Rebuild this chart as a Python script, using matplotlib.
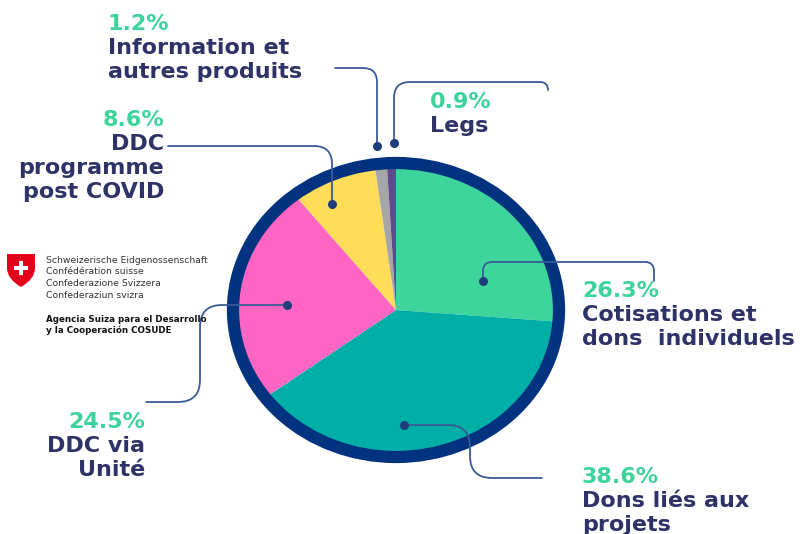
import numpy as np
import matplotlib
matplotlib.use('Agg')
import matplotlib.pyplot as plt
from matplotlib.path import Path
from matplotlib.patches import PathPatch, Circle, Rectangle

# parts des ressources (sens horaire depuis le haut)
categories = ['Cotisations et\ndons  individuels', 'Dons liés aux\nprojets', 'DDC via\nUnité',
              'DDC\nprogramme\npost COVID', 'Information et\nautres produits', 'Legs']
shares = [26.3, 38.6, 24.5, 8.6, 1.2, 0.9]
slice_colors = ['#3DD59C', '#00AEA8', '#FF66C4', '#FFDD59', '#A6A6A6', '#5E4A8C']

logo_lines = ['Schweizerische Eidgenossenschaft', 'Confédération suisse',
              'Confederazione Svizzera', 'Confederaziun svizra']
logo_agency = ['Agencia Suiza para el Desarrollo', 'y la Cooperación COSUDE']

NAVY = '#00337F'
TXT = '#2E3267'
PCT = '#3DD39B'
LINE = '#3A5A97'

W, H = 807, 534
fig = plt.figure(figsize=(W / 100, H / 100), dpi=100)

# camembert (ellipse : axes non carrés)
cx, cy, rx, ry = 396, 310, 163, 147
ax = fig.add_axes([(cx - rx) / W, (H - cy - ry) / H, 2 * rx / W, 2 * ry / H])
ax.pie(shares, colors=slice_colors, startangle=90, counterclock=False, radius=1,
       wedgeprops=dict(linewidth=0))
ax.add_patch(Circle((0, 0), 1, fill=False, ec=NAVY, lw=8.8, clip_on=False))
ax.set_aspect('auto')
ax.set_xlim(-1, 1)
ax.set_ylim(-1, 1)
ax.axis('off')

# calque en pixels pour les textes et les traits de rappel
ov = fig.add_axes([0, 0, 1, 1])
ov.set_xlim(0, W)
ov.set_ylim(H, 0)
ov.axis('off')
ov.patch.set_alpha(0)


def rounded(pts, r):
    pts = [np.array(p, float) for p in pts]
    verts, codes = [pts[0]], [Path.MOVETO]
    n = len(pts)
    for i in range(1, n - 1):
        p0, p1, p2 = pts[i - 1], pts[i], pts[i + 1]
        l1 = np.linalg.norm(p1 - p0)
        l2 = np.linalg.norm(p2 - p1)
        rr = min(r, l1 if i == 1 else l1 / 2, l2 if i == n - 2 else l2 / 2)
        a = p1 - (p1 - p0) / l1 * rr
        b = p1 + (p2 - p1) / l2 * rr
        verts += [a, p1, b]
        codes += [Path.LINETO, Path.CURVE3, Path.CURVE3]
    verts.append(pts[-1])
    codes.append(Path.LINETO)
    return Path(verts, codes)


leaders = [
    ([(483, 281), (483, 262), (654, 262), (654, 281)], 9, (483, 281)),
    ([(404, 425), (470, 425), (470, 478), (542, 478)], 22, (404, 425)),
    ([(287, 305), (200, 305), (200, 402), (146, 402)], 22, (287, 305)),
    ([(168, 146), (332, 146), (332, 204)], 18, (332, 204)),
    ([(335, 68), (377, 68), (377, 146)], 14, (377, 146)),
    ([(394, 143), (394, 82), (548, 82), (548, 90)], 16, (394, 143)),
]
for pts, r, dot in leaders:
    ov.add_patch(PathPatch(rounded(pts, r), fill=False, ec=LINE, lw=1.3, capstyle='round'))
    ov.plot(*dot, 'o', ms=6.5, color='#1F3D7A', mec='none')

# positions des étiquettes (x, y de la première ligne, alignement)
label_pos = [(582, 297, 'left'), (582, 483, 'left'), (145, 428, 'right'),
             (164, 126, 'right'), (108, 30, 'left'), (430, 108, 'left')]
step = 24
fs = 16
for cat, v, (x, y, ha) in zip(categories, shares, label_pos):
    ov.text(x, y, f'{v}%', color=PCT, fontsize=fs, fontweight='bold', ha=ha, va='baseline')
    for k, line in enumerate(cat.split('\n')):
        ov.text(x, y + step * (k + 1), line, color=TXT, fontsize=fs, fontweight='bold',
                ha=ha, va='baseline')

# logo Confédération
shield = Path([(7, 254), (35, 254), (35, 268), (35, 279), (21, 287), (7, 279), (7, 268), (7, 254)],
              [Path.MOVETO, Path.LINETO, Path.LINETO, Path.CURVE3, Path.CURVE3,
               Path.CURVE3, Path.CURVE3, Path.CLOSEPOLY])
ov.add_patch(PathPatch(shield, fc='#E3001B', ec='none'))
ov.add_patch(Rectangle((18.8, 261), 4.4, 14, fc='white', ec='none'))
ov.add_patch(Rectangle((14, 265.8), 14, 4.4, fc='white', ec='none'))
for k, line in enumerate(logo_lines):
    ov.text(46, 263 + 11.5 * k, line, color='#333333', fontsize=6.7, va='baseline')
for k, line in enumerate(logo_agency):
    ov.text(46, 322 + 11 * k, line, color='#111111', fontsize=6.3, fontweight='bold', va='baseline')

fig.savefig('out.png', dpi=100)
